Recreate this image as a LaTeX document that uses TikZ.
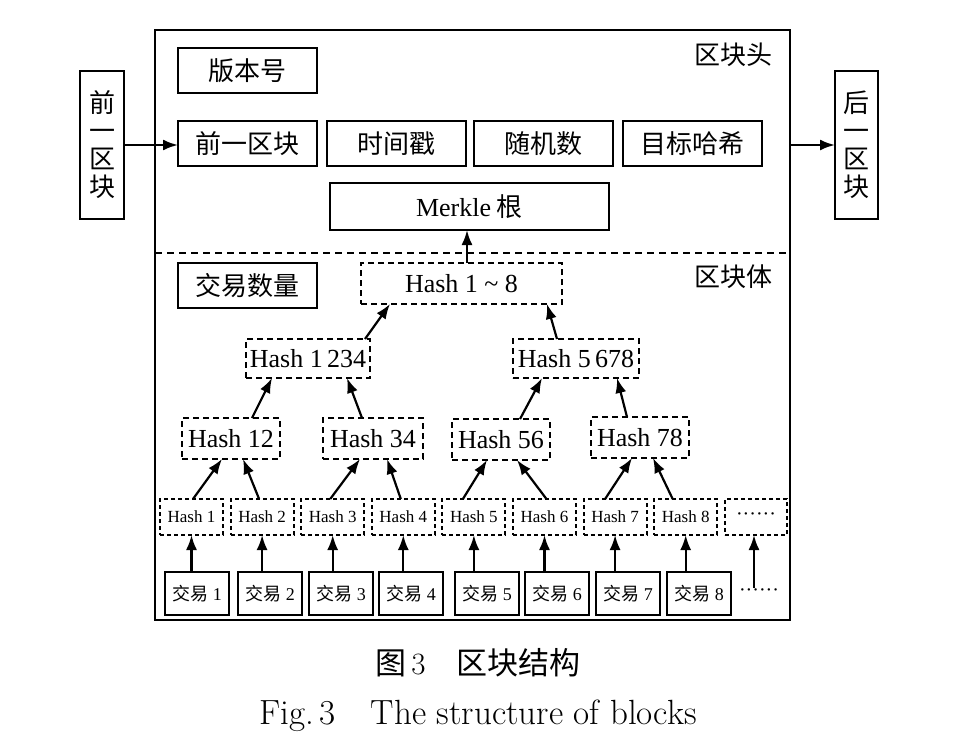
\documentclass[tikz,border=0pt]{standalone}
\usepackage{fontspec}
\newfontfamily\tnr{Liberation Serif}
\newfontfamily\cjk{Noto Sans CJK SC}
\usetikzlibrary{arrows.meta,calc}
\begin{document}
\begin{tikzpicture}[x=1pt,y=-1pt,
  every node/.style={inner sep=0pt,outer sep=0pt},
  sbox/.style={draw,line width=2.4pt,anchor=north west,font=\cjk\fontsize{26}{28}\selectfont},
  dbox/.style={draw,line width=2pt,dash pattern=on 6pt off 4pt,anchor=north west,font=\tnr\fontsize{26}{28}\selectfont},
  lbox/.style={draw,line width=2pt,dash pattern=on 4pt off 3pt,anchor=north west,minimum width=63pt,minimum height=36pt,font=\tnr\fontsize{17}{19}\selectfont},
  tbox/.style={draw,line width=2.4pt,anchor=north west,minimum width=64pt,minimum height=43pt,font=\tnr\fontsize{18}{20}\selectfont},
  arr/.style={line width=2.2pt,-{Latex[length=15pt,width=11pt]}},
  lab/.style={font=\cjk\fontsize{26}{28}\selectfont},
  dots/.style={font=\tnr\fontsize{20}{20}\selectfont}
]
\useasboundingbox (0,0) rectangle (978,750);

% outer block
\node[draw,line width=2.5pt,anchor=north west,minimum width=635pt,minimum height=590pt] (blk) at (155,30) {};
\coordinate (dl) at (155,253);
\coordinate (dr) at (790,253);
\draw[line width=2pt,dash pattern=on 7pt off 5pt] (dl) -- (dr);

\node[lab,anchor=east] (hlab) at (772,55) {区块头};
\node[lab,anchor=east] (blab) at (772,277) {区块体};

% header
\node[sbox,minimum width=139pt,minimum height=45pt] (ver) at (178,48) {版本号};
\node[sbox,minimum width=139pt,minimum height=45pt] (prev) at (178,121) {前一区块};
\node[sbox,minimum width=139pt,minimum height=45pt] (time) at (327,121) {时间戳};
\node[sbox,minimum width=139pt,minimum height=45pt] (nonce) at (474,121) {随机数};
\node[sbox,minimum width=139pt,minimum height=45pt] (target) at (623,121) {目标哈希};
\node[sbox,minimum width=279pt,minimum height=47pt] (mk) at (330,183) {{\tnr Merkle} 根};

% side blocks
\node[sbox,minimum width=44pt,minimum height=148pt,align=center] (lb) at (80,71) {前\\一\\区\\块};
\node[sbox,minimum width=43pt,minimum height=148pt,align=center] (rb) at (835,71) {后\\一\\区\\块};
\draw[arr] (lb.east) -- (lb.east -| prev.west);
\draw[arr] (rb.west -| blk.east) -- (rb.west);

% body
\node[sbox,minimum width=139pt,minimum height=45pt] (cnt) at (178,263) {交易数量};
\node[dbox,minimum width=201pt,minimum height=41pt] (h18) at (361,263) {Hash 1 \textasciitilde\ 8};
\node[dbox,minimum width=124pt,minimum height=39pt] (h1234) at (246,339) {Hash 1\,234};
\node[dbox,minimum width=126pt,minimum height=39pt] (h5678) at (513,339) {Hash 5\,678};
\node[dbox,minimum width=98pt,minimum height=41pt] (h12) at (182,418) {Hash 12};
\node[dbox,minimum width=100pt,minimum height=41pt] (h34) at (323,418) {Hash 34};
\node[dbox,minimum width=98pt,minimum height=41pt] (h56) at (452,419) {Hash 56};
\node[dbox,minimum width=98pt,minimum height=41pt] (h78) at (591,417) {Hash 78};

\foreach \i in {1,...,8} {
  \node[lbox] (l\i) at ({160+70.6*(\i-1)},499) {Hash \i};
}
\node[lbox,minimum width=62pt,dots] (l9) at (725,499) {······};

\foreach \i/\x in {1/165,2/238,3/309,4/379,5/455,6/525,7/596,8/667} {
  \node[tbox] (t\i) at (\x,572) {{\cjk 交易} \i};
  \draw[arr] (l\i.south |- t\i.north) -- (l\i.south);
}
\node[dots] (tdots) at (759,593) {······};
\coordinate (b9) at (754,588);
\draw[arr] (b9) -- (b9 |- l9.south);

% tree arrows
\draw[arr] ([xshift=1.5pt]l1.north) -- ([xshift=-9pt]h12.south);
\draw[arr] ([xshift=-3pt]l2.north) -- ([xshift=12pt]h12.south);
\draw[arr] ([xshift=-2.5pt]l3.north) -- ([xshift=-13pt]h34.south);
\draw[arr] ([xshift=-2.5pt]l4.north) -- ([xshift=14pt]h34.south);
\draw[arr] ([xshift=-11pt]l5.north) -- ([xshift=-14pt]h56.south);
\draw[arr] ([xshift=2pt]l6.north) -- ([xshift=16pt]h56.south);
\draw[arr] ([xshift=-10pt]l7.north) -- ([xshift=-8pt]h78.south);
\draw[arr] ([xshift=-13pt]l8.north) -- ([xshift=13pt]h78.south);

\draw[arr] ([xshift=21pt]h12.north) -- ([xshift=-36pt]h1234.south);
\draw[arr] ([xshift=-11pt]h34.north) -- ([xshift=39pt]h1234.south);
\draw[arr] ([xshift=19pt]h56.north) -- ([xshift=-34pt]h5678.south);
\draw[arr] ([xshift=-13pt]h78.north) -- ([xshift=41pt]h5678.south);

\draw[arr] ([xshift=57pt]h1234.north) -- ([xshift=-71.5pt]h18.south);
\draw[arr] ([xshift=-19pt]h5678.north) -- ([xshift=85.5pt]h18.south);

\draw[arr] ([xshift=5.5pt]h18.north) -- ([xshift=5.5pt]h18.north |- mk.south);

% captions
\node[font=\fontsize{31}{33}\selectfont] (cap1) at (478,663) {{\cjk 图}\,3\quad{\cjk 区块结构}};
\node[font=\fontsize{35}{37}\selectfont] (cap2) at (478,716) {Fig.\,3\quad The structure of blocks};
\end{tikzpicture}
\end{document}
